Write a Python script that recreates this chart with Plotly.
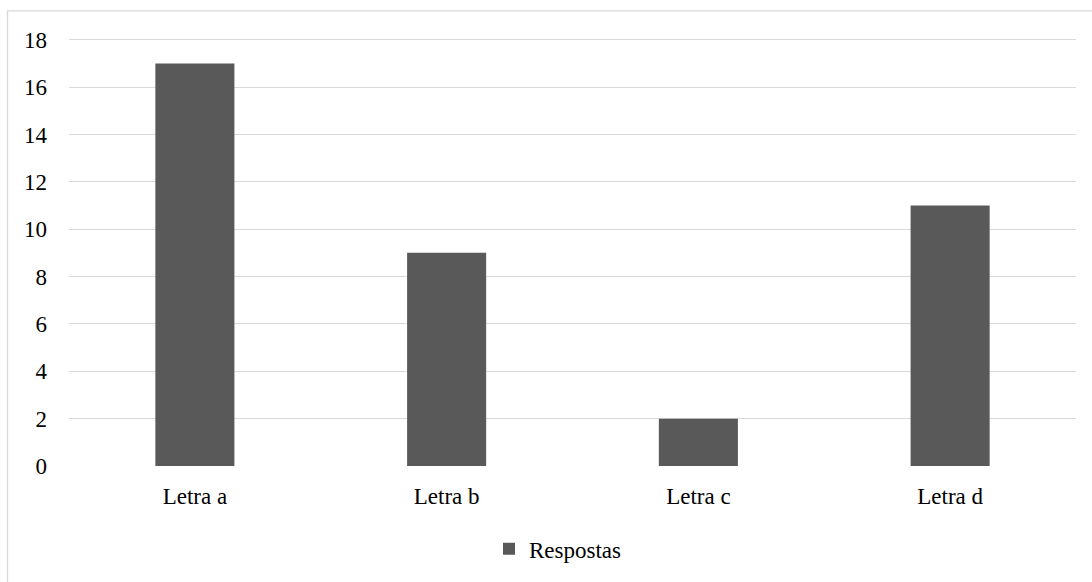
import plotly.graph_objects as go

# Answer counts per option
categorias = ["Letra a", "Letra b", "Letra c", "Letra d"]
respostas = [17, 9, 2, 11]
serie_nome = "Respostas"
y_ticks = [0, 2, 4, 6, 8, 10, 12, 14, 16, 18]

FONT = "Liberation Serif, Times New Roman, serif"
GRID = "#d9d9d9"
BAR = "#595959"

fig = go.Figure(
    go.Bar(
        x=categorias,
        y=respostas,
        name=serie_nome,
        marker=dict(color=BAR, line=dict(width=0)),
        showlegend=True,
    )
)

W, H = 1092, 582
L, R, T, B = 69, 16, 35, 111
pw, ph = W - L - R, H - T - B

def px_x(x):
    return (x - L) / pw

def px_y(y):
    return 1 - (y - T) / ph

fig.update_layout(
    width=W,
    height=H,
    margin=dict(l=L, r=R, t=T, b=B, pad=0),
    paper_bgcolor="white",
    plot_bgcolor="white",
    font=dict(family=FONT, size=23, color="#000000"),
    bargap=0.686,
    xaxis=dict(
        showgrid=False,
        zeroline=False,
        showline=False,
        ticks="",
        ticklabelstandoff=14,
        tickfont=dict(family=FONT, size=23, color="#000000"),
    ),
    yaxis=dict(
        range=[0, 18.2],
        tickvals=y_ticks,
        showgrid=True,
        gridcolor=GRID,
        gridwidth=1.3,
        zeroline=False,
        showline=False,
        ticks="",
        ticklabelstandoff=21,
        tickfont=dict(family=FONT, size=23, color="#000000"),
    ),
    legend=dict(
        orientation="h",
        x=px_x(489),
        y=px_y(533),
        xanchor="left",
        yanchor="top",
        bgcolor="rgba(0,0,0,0)",
        font=dict(family=FONT, size=23, color="#000000"),
    ),
    shapes=[
        dict(
            type="rect",
            xref="paper",
            yref="paper",
            x0=px_x(7.5),
            x1=px_x(1120),
            y0=px_y(620),
            y1=px_y(10.5),
            line=dict(color=GRID, width=1.3),
            fillcolor="rgba(0,0,0,0)",
            layer="below",
        )
    ],
)

fig.write_html("out.html")
